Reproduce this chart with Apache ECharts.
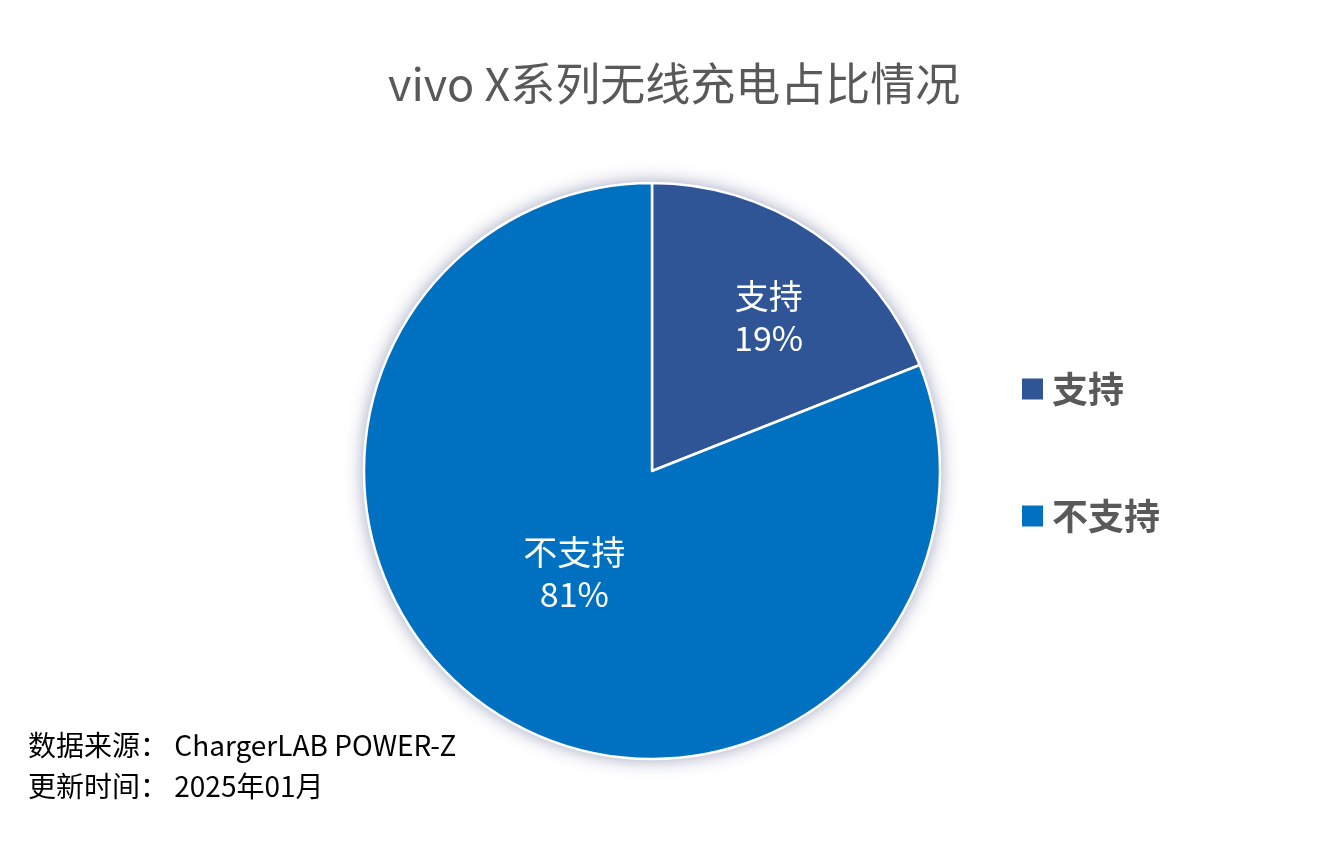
<!DOCTYPE html>
<html><head><meta charset="utf-8">
<script src="https://cdn.jsdelivr.net/npm/echarts@6/dist/echarts.min.js"></script>
<style>html,body{margin:0;padding:0;background:#fff}#c{width:1329px;height:854px}</style>
</head><body><div id="c"></div>
<script>
const titleText = 'vivo X系列无线充电占比情况';
const categories = ['支持', '不支持'];
const values = [19, 81];
const colors = ['#2F5597', '#0070C0'];
const footerLines = ['数据来源： ChargerLAB POWER-Z', '更新时间： 2025年01月'];

const labelOffsets = [[34, -32], [5, -20]];
const font = '"Noto Sans CJK SC", "Microsoft YaHei", sans-serif';

const chart = echarts.init(document.getElementById('c'));
chart.setOption({
  backgroundColor: '#fff',
  animation: false,
  title: {
    text: titleText,
    left: 383, top: 56,
    textStyle: { fontFamily: font, fontSize: 45, fontWeight: 'normal', color: '#595959' }
  },
  legend: {
    orient: 'vertical',
    left: 1017, top: 366,
    itemWidth: 21, itemHeight: 21, itemGap: 91,
    icon: 'rect',
    data: categories,
    textStyle: { fontFamily: font, fontSize: 36, fontWeight: 'bold', color: '#595959', padding: [0, 0, 0, 4] }
  },
  color: colors,
  graphic: footerLines.map((t, i) => ({
    type: 'text', left: 28, top: 731 + i * 41,
    style: { text: t, font: '28px ' + font, fill: '#000' }
  })),
  series: [
    {
      type: 'pie', silent: true, center: [652, 471], radius: 288,
      startAngle: 90, clockwise: true,
      label: { show: false }, labelLine: { show: false },
      itemStyle: { shadowBlur: 18, shadowColor: 'rgba(40,50,110,0.5)', borderWidth: 0 },
      data: categories.map((n, i) => ({ name: n, value: values[i] }))
    },
    {
      type: 'pie', center: [652, 471], radius: 288,
      startAngle: 90, clockwise: true,
      itemStyle: { borderColor: '#fff', borderWidth: 2.5 },
      label: {
        show: true, position: 'inside',
        formatter: p => p.name + '\n' + Math.round(p.percent) + '%',
        fontFamily: font, fontSize: 34, lineHeight: 42, color: '#fff', align: 'center'
      },
      labelLine: { show: false },
      data: categories.map((n, i) => ({ name: n, value: values[i], label: { offset: labelOffsets[i] } }))
    }
  ]
});
</script></body></html>
